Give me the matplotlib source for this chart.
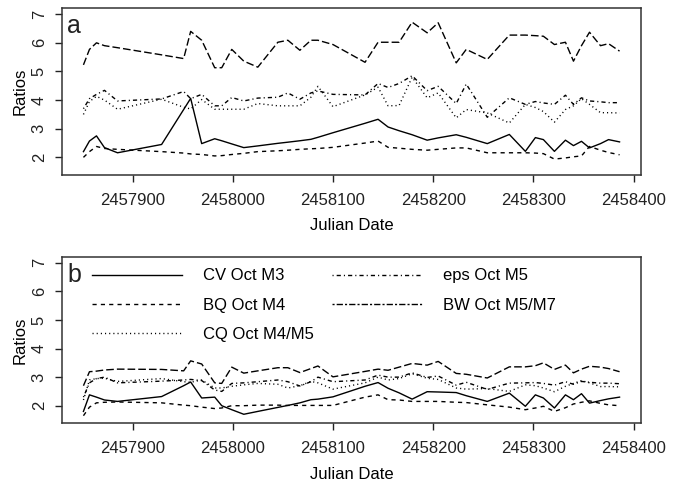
import numpy as np
import matplotlib
matplotlib.use('Agg')
import matplotlib.pyplot as plt
from matplotlib.lines import Line2D

plt.rcParams['font.family'] = ['Liberation Sans', 'DejaVu Sans']
plt.rcParams['font.size'] = 12

# observation dates (JD)
jd = [2457851, 2457857, 2457864, 2457872, 2457885, 2457929, 2457951, 2457958,
      2457969, 2457982, 2457989, 2457999, 2458011, 2458025, 2458045, 2458055,
      2458067, 2458078, 2458085, 2458100, 2458132, 2458145, 2458155, 2458166,
      2458179, 2458194, 2458205, 2458223, 2458233, 2458254, 2458276, 2458292,
      2458302, 2458310, 2458321, 2458332, 2458340, 2458348, 2458356, 2458367,
      2458375, 2458386]

# panel a
cv_a = [2.2, 2.57, 2.75, 2.34, 2.16, 2.45, 3.67, 4.06, 2.48, 2.65, 2.58, 2.47,
        2.34, 2.4, 2.49, 2.53, 2.58, 2.63, 2.7, 2.86, 3.19, 3.33, 3.06, 2.93,
        2.79, 2.6, 2.68, 2.79, 2.7, 2.48, 2.8, 2.21, 2.69, 2.62, 2.21, 2.6,
        2.41, 2.56, 2.33, 2.48, 2.62, 2.54]
bq_a = [2.0, 2.2, 2.38, 2.31, 2.28, 2.2, 2.15, 2.12, 2.1, 2.05, 2.06, 2.1,
        2.14, 2.2, 2.23, 2.25, 2.28, 2.3, 2.31, 2.35, 2.5, 2.57, 2.35, 2.32,
        2.28, 2.25, 2.28, 2.33, 2.33, 2.16, 2.16, 2.16, 2.15, 2.13, 1.94, 1.98,
        2.02, 2.05, 2.38, 2.25, 2.17, 2.09]
cq_a = [3.5, 3.95, 4.13, 4.0, 3.68, 4.03, 3.75, 3.69, 4.02, 3.68, 3.68, 3.68,
        3.68, 3.88, 3.8, 3.8, 3.8, 4.1, 4.48, 3.77, 4.18, 4.45, 3.8, 3.81,
        4.8, 4.08, 4.25, 3.38, 3.67, 3.55, 3.2, 3.85, 3.74, 3.6, 3.23, 3.67,
        3.8, 4.05, 3.85, 3.56, 3.56, 3.55]
eps_a = [3.7, 4.05, 4.2, 4.34, 3.97, 4.04, 4.3, 4.05, 4.2, 3.8, 3.8, 4.09,
         3.97, 4.07, 4.1, 4.25, 4.03, 4.25, 4.32, 4.2, 4.18, 4.58, 4.44, 4.58,
         4.85, 4.33, 4.48, 3.88, 4.56, 3.4, 4.08, 3.85, 3.95, 3.9, 3.85, 4.17,
         3.85, 4.08, 3.97, 3.94, 3.91, 3.91]
bw_a = [5.23, 5.77, 6.0, 5.9, 5.83, 5.58, 5.45, 6.4, 6.09, 5.13, 5.13, 5.77,
        5.36, 5.15, 6.02, 6.09, 5.74, 6.09, 6.09, 5.94, 5.32, 6.02, 6.02, 6.02,
        6.72, 6.35, 6.7, 5.3, 5.77, 5.42, 6.27, 6.27, 6.25, 6.23, 5.94, 6.02,
        5.36, 5.9, 6.37, 5.9, 5.97, 5.71]

# panel b
cv_b = [1.8, 2.38, 2.3, 2.2, 2.15, 2.32, 2.7, 2.83, 2.27, 2.3, 2.0, 1.86,
        1.7, 1.8, 1.94, 2.01, 2.1, 2.21, 2.23, 2.31, 2.68, 2.81, 2.61, 2.45,
        2.23, 2.49, 2.48, 2.46, 2.35, 2.15, 2.44, 1.98, 2.38, 2.27, 1.92, 2.38,
        2.21, 2.42, 2.09, 2.18, 2.24, 2.3]
bq_b = [1.65, 1.95, 2.1, 2.12, 2.13, 2.1, 2.02, 2.0, 1.95, 1.9, 1.92, 2.0,
        2.0, 2.02, 2.02, 2.01, 2.01, 2.01, 2.01, 2.01, 2.3, 2.38, 2.21, 2.2,
        2.15, 2.15, 2.15, 2.12, 2.11, 2.03, 1.95, 1.86, 1.92, 1.98, 1.8, 1.93,
        2.06, 2.12, 2.17, 2.08, 2.03, 2.0]
cq_b = [2.2, 2.9, 2.95, 2.96, 2.85, 2.95, 2.84, 2.82, 2.9, 2.62, 2.62, 2.68,
        2.73, 2.78, 2.75, 2.62, 2.7, 2.85, 2.8, 2.58, 2.8, 3.0, 2.9, 2.95,
        3.12, 2.96, 2.92, 2.62, 2.58, 2.6, 2.5, 2.73, 2.7, 2.62, 2.49, 2.68,
        2.78, 2.88, 2.8, 2.67, 2.67, 2.66]
eps_b = [2.3, 2.8, 2.95, 3.0, 2.8, 2.86, 2.9, 2.92, 2.88, 2.55, 2.5, 2.78,
         2.8, 2.84, 2.9, 2.84, 2.69, 2.84, 3.0, 2.84, 2.9, 3.07, 3.0, 3.0,
         3.15, 2.99, 3.04, 2.72, 2.82, 2.57, 2.79, 2.8, 2.81, 2.78, 2.72, 2.84,
         2.75, 2.85, 2.82, 2.79, 2.79, 2.77]
bw_b = [2.7, 3.19, 3.21, 3.25, 3.28, 3.27, 3.22, 3.57, 3.46, 2.8, 2.78, 3.35,
        3.14, 3.22, 3.33, 3.33, 3.16, 3.3, 3.39, 3.01, 3.2, 3.28, 3.24, 3.35,
        3.48, 3.42, 3.55, 3.13, 3.1, 2.97, 3.36, 3.36, 3.4, 3.5, 3.27, 3.42,
        3.15, 3.28, 3.38, 3.35, 3.3, 3.19]

labels = ['CV Oct M3', 'BQ Oct M4', 'CQ Oct M4/M5', 'eps Oct M5', 'BW Oct M5/M7']
xticks = [2457900, 2458000, 2458100, 2458200, 2458300, 2458400]
yticks = [2, 3, 4, 5, 6, 7]

# R-like line types
ls_solid = '-'
ls_dash = (0, (3, 3))
ls_dot = (0, (0.8, 2.2))
ls_dotdash = (0, (0.8, 2.2, 3, 2.2))
ls_long = (0, (5.5, 2.2))
ls_twodash = (0, (1.5, 1.5, 4.5, 1.5))

fig = plt.figure(figsize=(6.83, 4.83), dpi=100)
ax1 = fig.add_axes([62/683, 1-175/483, 579/683, 167/483])
ax2 = fig.add_axes([62/683, 1-423.3/483, 579/683, 166.6/483])

span = jd[-1] - jd[0]
xlim = (jd[0] - 0.04*span, jd[-1] + 0.04*span)

def draw(ax, cv, bq, cq, eps, bw, tag):
    ax.plot(jd, cv, color='black', lw=1.0, ls=ls_solid)
    ax.plot(jd, bq, color='black', lw=1.0, ls=ls_dash)
    ax.plot(jd, cq, color='black', lw=1.0, ls=ls_dot)
    ax.plot(jd, eps, color='black', lw=1.0, ls=ls_dotdash)
    ax.plot(jd, bw, color='black', lw=1.0, ls=ls_long)
    ax.set_xlim(xlim)
    ax.set_ylim(1.384, 7.216)
    ax.set_xticks(xticks)
    ax.set_xticklabels([str(t) for t in xticks])
    ax.set_yticks(yticks)
    ax.set_yticklabels([str(t) for t in yticks], rotation=90, va='center')
    ax.tick_params(length=5, width=1, pad=6, labelsize=12, colors='#222222')
    ax.tick_params(axis='x', pad=8)
    for s in ax.spines.values():
        s.set_linewidth(1.1)
        s.set_color('#333333')
    ax.set_xlabel('Julian Date', fontsize=12, labelpad=7.5)
    ax.set_ylabel('Ratios', fontsize=12, labelpad=3)
    ax.text(0.009, 0.965, tag, transform=ax.transAxes, fontsize=18,
            va='top', ha='left', color='#222222')

draw(ax1, cv_a, bq_a, cq_a, eps_a, bw_a, 'a')
draw(ax2, cv_b, bq_b, cq_b, eps_b, bw_b, 'b')

handles = [Line2D([], [], color='black', lw=1.0, ls=ls_solid),
           Line2D([], [], color='black', lw=1.0, ls=ls_dash),
           Line2D([], [], color='black', lw=1.0, ls=ls_dot),
           Line2D([], [], color='black', lw=1.0, ls=ls_dotdash),
           Line2D([], [], color='black', lw=1.0, ls=ls_twodash)]
ax2.legend(handles, labels, ncol=2, frameon=False, loc='upper left',
           bbox_to_anchor=(0.0513, 0.93), borderaxespad=0, borderpad=0,
           handlelength=5.4, handletextpad=1.26, columnspacing=1.12,
           labelspacing=0.85, fontsize=12)

fig.savefig('out.png', dpi=100)
